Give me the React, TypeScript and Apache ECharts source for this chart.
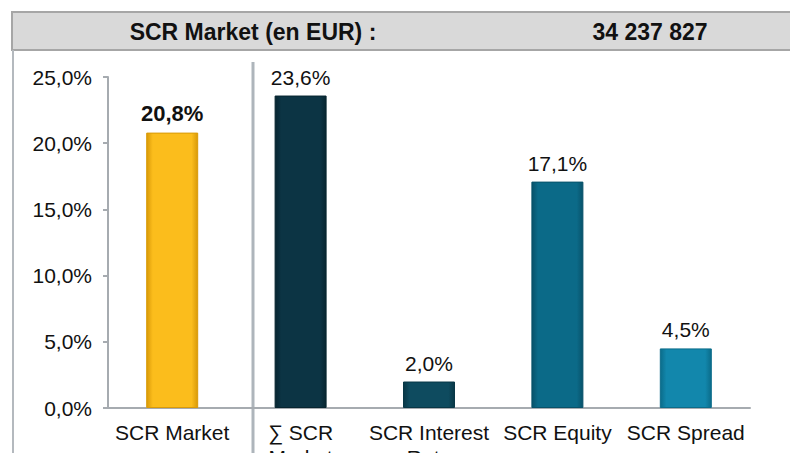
import React, { useEffect, useRef } from "react";
import * as echarts from "echarts";

const categories = ["SCR Market", "∑ SCR\nMarket", "SCR Interest\nRate", "SCR Equity", "SCR Spread"];
const values = [20.8, 23.6, 2.0, 17.1, 4.5];
const barColors = ["#fbbd1c", "#0c3444", "#0e4b5f", "#0b6a88", "#1287ac"];
const barEdgeColors = ["#d99a08", "#072530", "#083746", "#08526a", "#0b6c8a"];
const yTicks = [0, 5, 10, 15, 20, 25];
const headerTitle = "SCR Market (en EUR) :";
const headerValue = "34 237 827";

const FONT = "'Liberation Sans', Arial, sans-serif";

export default function App() {
  const ref = useRef<HTMLDivElement>(null);
  useEffect(() => {
    const chart = echarts.init(ref.current!, null, { renderer: "svg" });
    const fmt = (v: number) => v.toFixed(1).replace(".", ",") + "%";
    chart.setOption({
      animation: false,
      textStyle: { fontFamily: FONT },
      grid: { left: 108, right: 40, top: 77, bottom: 45, containLabel: false, outerBoundsMode: "none" },
      xAxis: {
        type: "category",
        data: categories,
        axisLine: { lineStyle: { color: "#a6abb0", width: 2 } },
        axisTick: { show: false },
        axisLabel: { color: "#111", fontSize: 21, margin: 12, lineHeight: 25, interval: 0 },
      },
      yAxis: {
        type: "value",
        min: yTicks[0],
        max: yTicks[yTicks.length - 1],
        interval: 5,
        splitLine: { show: false },
        axisLine: { show: true, lineStyle: { color: "#a6abb0", width: 2 } },
        axisTick: { show: true, inside: false, length: 5, lineStyle: { color: "#a6abb0", width: 2 } },
        axisLabel: { color: "#111", fontSize: 21, margin: 16, formatter: fmt },
      },
      series: [
        {
          type: "bar",
          barWidth: 52,
          data: values.map((v, i) => ({
            value: v,
            itemStyle: {
              color: new echarts.graphic.LinearGradient(0, 0, 1, 0, [
                { offset: 0, color: barEdgeColors[i] },
                { offset: 0.12, color: barColors[i] },
                { offset: 0.88, color: barColors[i] },
                { offset: 1, color: barEdgeColors[i] },
              ]),
              borderColor: barEdgeColors[i],
              borderWidth: 1,
            },
            label: {
              show: true,
              position: "top",
              distance: 8,
              fontSize: i === 0 ? 22 : 21,
              fontWeight: i === 0 ? "bold" : "normal",
              color: "#111",
              formatter: (p: any) => fmt(p.value),
            },
          })),
        },
      ],
      graphic: [
        {
          type: "rect",
          shape: { x: 12, y: 12, width: 800, height: 38 },
          style: { fill: "#d9d9d9", stroke: "#a6a6a6", lineWidth: 2 },
          silent: true,
        },
        {
          type: "line",
          shape: { x1: 13, y1: 50, x2: 13, y2: 460 },
          style: { stroke: "#b4b9be", lineWidth: 2 },
        },
        {
          type: "line",
          shape: { x1: 253, y1: 62, x2: 253, y2: 460 },
          style: { stroke: "#aeb5bb", lineWidth: 3 },
        },
        {
          type: "text",
          x: 253,
          y: 32,
          style: {
            text: headerTitle,
            font: `bold 23px ${FONT}`,
            fill: "#111",
            align: "center",
            verticalAlign: "middle",
          },
        },
        {
          type: "text",
          x: 650,
          y: 32,
          style: {
            text: headerValue,
            font: `bold 23px ${FONT}`,
            fill: "#111",
            align: "center",
            verticalAlign: "middle",
          },
        },
      ],
    });
    return () => chart.dispose();
  }, []);
  return <div ref={ref} style={{ width: 790, height: 453, position: "absolute", left: 0, top: 0, background: "#fff" }} />;
}
